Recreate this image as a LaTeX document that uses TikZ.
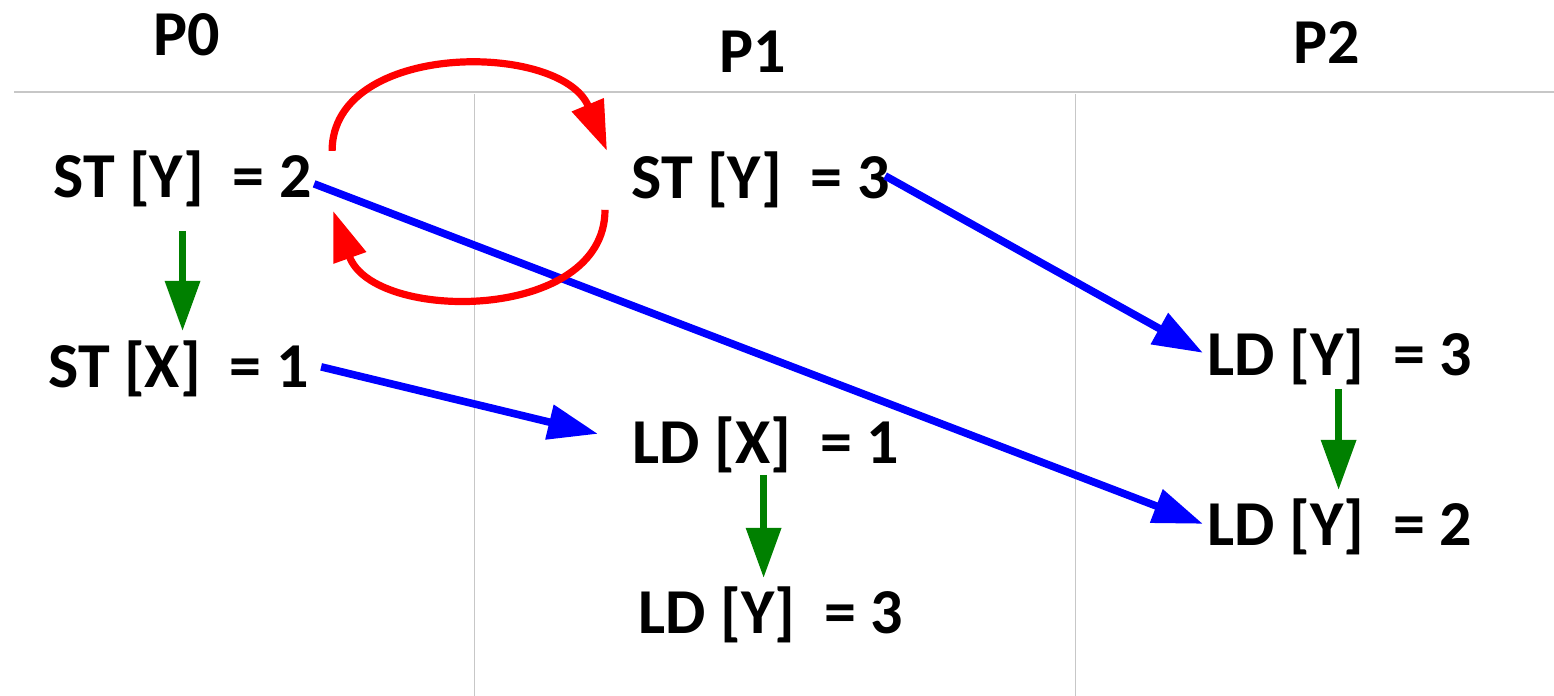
\documentclass[tikz,border=0pt]{standalone}
\usepackage{fontspec}
\setmainfont{Carlito}
\usetikzlibrary{arrows.meta}
\begin{document}
\begin{tikzpicture}[x=0.5pt,y=-0.5pt,
  lbl/.style={font=\fontsize{32}{38}\selectfont\bfseries, inner sep=0pt, anchor=base west},
  hdr/.style={font=\fontsize{32}{38}\selectfont\bfseries, inner sep=0pt, anchor=base},
  gridh/.style={draw=black!22, line width=1pt},
  gridv/.style={draw=black!22, line width=0.5pt},
  po/.style={draw=blue, line width=3.8pt, -{Triangle[length=25pt,width=17pt]}},
  prog/.style={draw=green!50!black, line width=3.3pt, -{Triangle[length=25pt,width=17pt]}},
  coh/.style={draw=red, line width=3.6pt, -{Triangle[length=25pt,width=16.5pt]}},
]
\fill[white] (0,0) rectangle (1554,696);
\useasboundingbox (0,0) rectangle (1554,696);
% grid
\draw[gridh] (14,92) -- (1554,92);
\draw[gridv] (474,94) -- (474,696);
\draw[gridv] (1075,94) -- (1075,696);
% headers
\node[hdr] (p0) at (187,55) {P0};
\node[hdr] (p1) at (753,72) {P1};
\node[hdr] (p2) at (1327,63) {P2};
% P0
\node[lbl] (sy2) at (53,197) {ST [Y]~~= 2};
\node[lbl] (sx1) at (48,387) {ST [X]~~= 1};
% P1
\node[lbl] (sy3) at (631,198) {ST [Y]~~= 3};
\node[lbl] (lx1) at (632,463) {LD [X]~~= 1};
\node[lbl] (ly3a) at (638,633) {LD [Y]~~= 3};
% P2
\node[lbl] (ly3b) at (1207,375) {LD [Y]~~= 3};
\node[lbl] (ly2) at (1207,545) {LD [Y]~~= 2};
% program order
\draw[prog] ([shift={(0,24)}]sy2.south) -- ([shift={(0,-9)}]sx1.north -| sy2.south);
\draw[prog] ([shift={(-2,2)}]lx1.south) -- ([shift={(-2,-8)}]ly3a.north -| lx1.south);
\draw[prog] ([shift={(-1,4)}]ly3b.south) -- ([shift={(-1,-8)}]ly2.north -| ly3b.south);
% reads-from
\draw[po] ([shift={(2,5.5)}]sy2.east) -- ([shift={(-4,-2.5)}]ly2.west);
\draw[po] ([shift={(-5,-3.5)}]sy3.east) -- ([shift={(-4,-3.5)}]ly3b.west);
\draw[po] ([shift={(12,-1.5)}]sx1.east) -- ([shift={(-34,-10.5)}]lx1.west);
% coherence
\draw[coh] ([shift={(20,1)}]sy2.north east) .. controls +(0,-110) and +(-46,-110) .. ([shift={(-24,0)}]sy3.north west);
\draw[coh] ([shift={(-26,2)}]sy3.south west) .. controls +(0,113) and +(40,112) .. ([shift={(21,4)}]sy2.south east);
\end{tikzpicture}
\end{document}
